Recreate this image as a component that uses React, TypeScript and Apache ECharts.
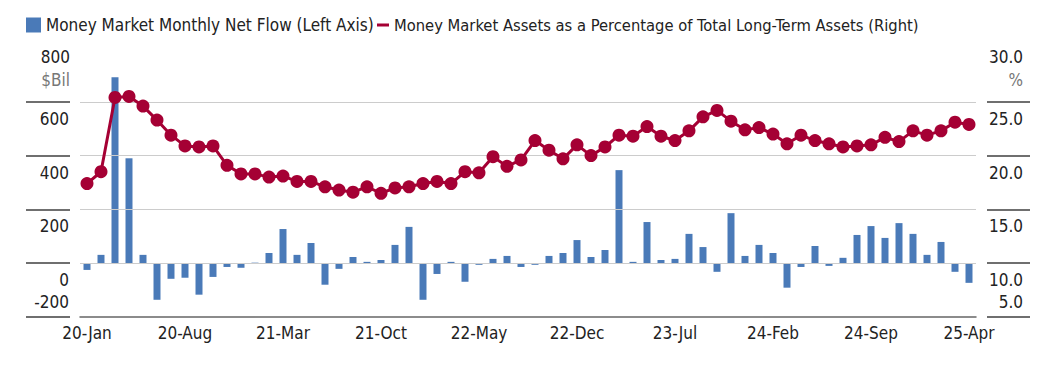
import React, { useEffect, useRef } from "react";
import * as echarts from "echarts";

const categories = [
  "20-Jan","20-Feb","20-Mar","20-Apr","20-May","20-Jun","20-Jul","20-Aug","20-Sep","20-Oct","20-Nov","20-Dec",
  "21-Jan","21-Feb","21-Mar","21-Apr","21-May","21-Jun","21-Jul","21-Aug","21-Sep","21-Oct","21-Nov","21-Dec",
  "22-Jan","22-Feb","22-Mar","22-Apr","22-May","22-Jun","22-Jul","22-Aug","22-Sep","22-Oct","22-Nov","22-Dec",
  "23-Jan","23-Feb","23-Mar","23-Apr","23-May","23-Jun","23-Jul","23-Aug","23-Sep","23-Oct","23-Nov","23-Dec",
  "24-Jan","24-Feb","24-Mar","24-Apr","24-May","24-Jun","24-Jul","24-Aug","24-Sep","24-Oct","24-Nov","24-Dec",
  "25-Jan","25-Feb","25-Mar","25-Apr",
];

const netFlow = [
  -25, 31, 691, 390, 31, -136, -58, -54, -117, -51, -14, -17, 2,
  38, 127, 31, 75, -80, -21, 23, 5, 12, 68, 135, -136, -40,
  5, -69, -6, 16, 27, -14, -6, 27, 38, 86, 23, 49,
  346, 5, 153, 12, 16, 109, 60, -32, 186, 27, 68, 38, -91,
  -14, 64, -10, 20, 105, 138, 94, 149, 109, 31, 79, -32, -73,
];

const assetPct = [
  17.4, 18.5, 25.4, 25.5, 24.6, 23.3, 21.9, 20.9, 20.8, 20.9, 19.1, 18.3, 18.3,
  18.0, 18.1, 17.6, 17.6, 17.1, 16.8, 16.6, 17.1, 16.5, 17.0, 17.1, 17.4, 17.6,
  17.4, 18.5, 18.4, 19.9, 19.0, 19.6, 21.4, 20.5, 19.7, 21.0, 20.0, 20.8,
  21.9, 21.8, 22.7, 21.8, 21.4, 22.3, 23.6, 24.2, 23.2, 22.4, 22.6, 22.0, 21.1,
  21.9, 21.4, 21.1, 20.8, 20.9, 21.0, 21.7, 21.3, 22.3, 21.9, 22.3, 23.1, 22.9,
];

// left axis ($Bil)
const leftMin = -200;
const leftMax = 800;
const leftStep = 200;
const leftTicks = [-200, 0, 200, 400, 600];
const gridValues = [0, 200, 400, 600];
const leftUnit = "$Bil";

// right axis (%)
const rightMin = 5;
const rightMax = 30;
const rightStep = 5;
const rightTicks = [5, 10, 15, 20, 25];
const rightUnit = "%";

const barName = "Money Market Monthly Net Flow (Left Axis)";
const lineName = "Money Market Assets as a Percentage of Total Long-Term Assets (Right)";

const FONT = "'DejaVu Sans Condensed', 'Liberation Sans', sans-serif";
const FS = 17;
const BAR = "#4a7ab8";
const LINE = "#a50034";
const TEXT = "#222222";
const UNIT = "#777777";
const TICK = "#666666";
const GRID = "#cccccc";

const richLabels = {
  v: { fontFamily: FONT, fontSize: FS, lineHeight: 17, color: TEXT, align: "right" },
  n: { fontSize: 10, lineHeight: 34, align: "right" },
  m: { fontSize: 10, lineHeight: 30, align: "right" },
};

const richName = {
  v: { fontFamily: FONT, fontSize: FS, lineHeight: 34, color: TEXT, align: "right", width: 36 },
  u: { fontFamily: FONT, fontSize: FS, lineHeight: 12, color: UNIT, align: "right", width: 36 },
};

function labelFormatter(min: number, max: number, fmt: (v: number) => string) {
  return (v: number) => {
    if (v === max) return "";
    if (v === min) return "{v|" + fmt(v) + "}\n{m| }";
    return "{n| }\n{v|" + fmt(v) + "}";
  };
}

const tickStyle = { color: TICK, width: 1.5, type: "solid" };
const gridStyle = { color: GRID, width: 1.2, type: "solid" };

function tickSegments(values: number[], x0: number, x1: number) {
  return values.map((v) => [
    { x: x0, yAxis: v, lineStyle: tickStyle },
    { x: x1, yAxis: v, lineStyle: tickStyle },
  ]);
}

const markBase = {
  silent: true,
  symbol: ["none", "none"],
  label: { show: false },
  emphasis: { disabled: true },
  animation: false,
};

export default function App() {
  const ref = useRef<HTMLDivElement>(null);
  useEffect(() => {
    if (!ref.current) return;
    const chart = echarts.init(ref.current, undefined, { renderer: "svg" });
    chart.setOption({
      animation: false,
      backgroundColor: "#ffffff",
      textStyle: { fontFamily: FONT },
      legend: [
        {
          data: [{ name: barName, icon: "rect" }],
          left: 26,
          top: 16,
          padding: 0,
          itemWidth: 15,
          itemHeight: 15,
          selectedMode: false,
          textStyle: { fontFamily: FONT, fontSize: FS, lineHeight: 18, color: TEXT },
        },
        {
          data: [{ name: lineName, icon: "rect" }],
          left: 377,
          top: 16,
          padding: 0,
          itemWidth: 12,
          itemHeight: 3,
          selectedMode: false,
          textStyle: { fontFamily: FONT, fontSize: 16.4, lineHeight: 18, color: TEXT },
        },
      ],
      grid: { left: 80, right: 78, top: 48, bottom: 57, containLabel: false, outerBoundsMode: "none" },
      xAxis: {
        type: "category",
        data: categories,
        boundaryGap: true,
        axisLine: { onZero: false, lineStyle: { color: TICK, width: 1.5 } },
        axisTick: { show: false },
        axisLabel: { interval: 6, margin: 7, fontFamily: FONT, fontSize: FS, color: TEXT },
        splitLine: { show: false },
      },
      yAxis: [
        {
          type: "value",
          position: "left",
          min: leftMin,
          max: leftMax,
          interval: leftStep,
          offset: 10,
          name: "{v|" + String(leftMax) + "}\n{u|" + leftUnit + "}",
          nameLocation: "end",
          nameGap: 0,
          nameTextStyle: { align: "right", verticalAlign: "top", rich: richName },
          axisLine: { show: false },
          axisTick: { show: true, inside: false, length: 44, customValues: leftTicks, lineStyle: { color: TICK, width: 1.5 } },
          axisLabel: {
            margin: 1,
            align: "right",
            verticalAlign: "middle",
            showMaxLabel: false,
            formatter: labelFormatter(leftMin, leftMax, (v) => String(v)),
            rich: richLabels,
          },
          splitLine: { show: false },
        },
        {
          type: "value",
          position: "right",
          min: rightMin,
          max: rightMax,
          interval: rightStep,
          offset: 11,
          name: "{v|" + rightMax.toFixed(1) + "}\n{u|" + rightUnit + "}",
          nameLocation: "end",
          nameGap: 0,
          nameTextStyle: { align: "left", verticalAlign: "top", rich: richName },
          axisLine: { show: false },
          axisTick: { show: true, inside: false, length: 43, customValues: rightTicks, lineStyle: { color: TICK, width: 1.5 } },
          axisLabel: {
            margin: 36,
            align: "right",
            verticalAlign: "middle",
            showMaxLabel: false,
            formatter: labelFormatter(rightMin, rightMax, (v) => v.toFixed(1)),
            rich: richLabels,
          },
          splitLine: { show: false },
        },
      ],
      series: [
        {
          name: barName,
          type: "bar",
          yAxisIndex: 0,
          data: netFlow,
          barWidth: 7,
          clip: false,
          itemStyle: { color: BAR },
          markLine: {
            ...markBase,
            data: [
              ...gridValues.map((v) => ({ yAxis: v, lineStyle: gridStyle })),
              ...tickSegments(leftTicks, 26, 70),
            ],
          },
          z: 2,
        },
        {
          name: lineName,
          type: "line",
          yAxisIndex: 1,
          data: assetPct,
          symbol: "circle",
          symbolSize: 13,
          showAllSymbol: true,
          clip: false,
          lineStyle: { color: LINE, width: 3 },
          itemStyle: { color: LINE },
          markLine: {
            ...markBase,
            data: tickSegments(rightTicks, 987, 1030),
          },
          z: 5,
        },
      ],
    });
    return () => chart.dispose();
  }, []);
  return (
    <div
      ref={ref}
      style={{ position: "fixed", left: 0, top: 0, width: 1054, height: 374, background: "#fff" }}
    />
  );
}
